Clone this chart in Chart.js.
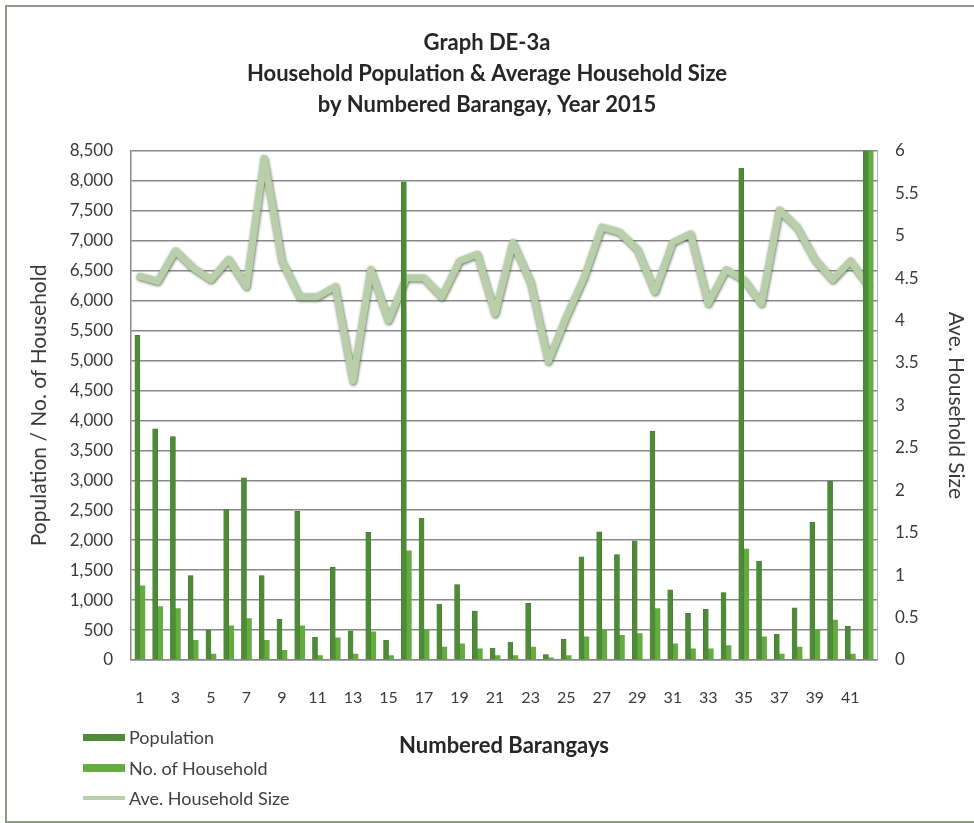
<!DOCTYPE html>
<html lang="en">
<head>
    <meta charset="UTF-8">
    <title>Graph DE-3a</title>
    <script src="https://cdn.jsdelivr.net/npm/chart.js"></script>
    <style>
        body {
            margin: 0;
            padding: 0;
            background: #fff;
            font-family: Lato, "Open Sans", sans-serif;
        }
        .wrap {
            position: relative;
            width: 974px;
            height: 823px;
            overflow: hidden;
        }
        .frame {
            position: absolute;
            left: 5px;
            top: 5px;
            width: 990px;
            height: 814px;
            border: 2px solid #8e9b86;
            pointer-events: none;
        }
        #legend {
            position: absolute;
            left: 83px;
            top: 722px;
            font-size: 18px;
            color: #404040;
        }
        #legend div {
            height: 30.5px;
            display: flex;
            align-items: center;
        }
        #legend span.sw {
            display: inline-block;
            width: 42px;
            margin-right: 4px;
        }
    </style>
</head>
<body>
    <div class="wrap">
        <canvas id="grafico" width="974" height="823"></canvas>
        <div class="frame"></div>
        <div id="legend"></div>
    </div>

    <script>
        // barangay numbers (42 = all barangays)
        const barangays = ["1","2","3","4","5","6","7","8","9","10","11","12","13","14","15","16","17","18","19","20",
            "21","22","23","24","25","26","27","28","29","30","31","32","33","34","35","36","37","38","39","40","41","42"];

        const population = [5420, 3860, 3730, 1410, 495, 2510, 3040, 1410, 680, 2480, 380, 1550, 485, 2130, 330,
            7980, 2370, 935, 1260, 815, 200, 300, 945, 90, 345, 1720, 2140, 1760, 1990, 3820, 1170, 780, 845,
            1125, 8210, 1650, 430, 870, 2300, 2985, 560, 77480];

        const households = [1240, 890, 860, 330, 100, 570, 690, 330, 160, 570, 75, 370, 100, 470, 75,
            1820, 495, 215, 270, 185, 75, 75, 215, 35, 75, 385, 495, 410, 440, 860, 270, 185, 185,
            240, 1850, 385, 100, 215, 495, 665, 100, 17610];

        const aveSize = [4.52, 4.46, 4.82, 4.62, 4.48, 4.72, 4.40, 5.91, 4.70, 4.28, 4.28, 4.40, 3.29, 4.60, 4.00,
            4.50, 4.50, 4.28, 4.70, 4.78, 4.08, 4.92, 4.45, 3.52, 4.04, 4.50, 5.10, 5.04, 4.84, 4.34, 4.92, 5.02,
            4.20, 4.60, 4.48, 4.20, 5.30, 5.10, 4.72, 4.48, 4.70, 4.42];

        const titleLines = ["Graph DE-3a", "Household Population & Average Household Size", "by Numbered Barangay, Year 2015"];

        const colPop = "#4e8a38";
        const colHH = "#64ab42";
        const colAve = "#b8cfaa";
        const gridCol = "#888888";
        const txtCol = "#3a3a3a";
        const fontFam = "Lato, 'Open Sans', sans-serif";

        // soft dark edge around the average line, like the original
        const lineShadow = {
            id: "lineShadow",
            beforeDatasetDraw(chart, args) {
                if (args.meta.type !== "line") return;
                const ctx = chart.ctx;
                ctx.save();
                ctx.shadowColor = "rgba(60, 85, 50, 0.85)";
                ctx.shadowBlur = 3;
                ctx.shadowOffsetX = 0.5;
                ctx.shadowOffsetY = 1;
            },
            afterDatasetDraw(chart, args) {
                if (args.meta.type !== "line") return;
                chart.ctx.restore();
            }
        };

        const chart = new Chart(document.getElementById("grafico").getContext("2d"), {
            data: {
                labels: barangays,
                datasets: [
                    {
                        type: "bar",
                        label: "Population",
                        data: population,
                        backgroundColor: colPop,
                        borderColor: "#3f7a2c",
                        borderWidth: 0.5,
                        barThickness: 5,
                        yAxisID: "y",
                        order: 1
                    },
                    {
                        type: "bar",
                        label: "No. of Household",
                        data: households,
                        backgroundColor: colHH,
                        borderWidth: 0,
                        barThickness: 5,
                        yAxisID: "y",
                        order: 1
                    },
                    {
                        type: "line",
                        label: "Ave. Household Size",
                        data: aveSize,
                        borderColor: colAve,
                        backgroundColor: colAve,
                        borderWidth: 7,
                        pointRadius: 0,
                        tension: 0,
                        borderJoinStyle: "round",
                        borderCapStyle: "round",
                        yAxisID: "y1",
                        order: 2
                    }
                ]
            },
            plugins: [lineShadow],
            options: {
                responsive: false,
                animation: false,
                layout: { padding: 0 },
                plugins: {
                    legend: { display: false },
                    tooltip: { enabled: false },
                    title: {
                        display: true,
                        text: titleLines,
                        color: "#262626",
                        font: { family: fontFam, size: 22, weight: "bold", lineHeight: 1.42 },
                        padding: { top: 27, bottom: 30 }
                    }
                },
                scales: {
                    x: {
                        offset: true,
                        grid: { display: false },
                        border: { display: true, color: gridCol, width: 1.5 },
                        ticks: {
                            autoSkip: false,
                            maxRotation: 0,
                            padding: 20,
                            color: txtCol,
                            font: { family: fontFam, size: 16 },
                            callback: function (v, i) { return i % 2 === 0 && i < 41 ? this.getLabelForValue(v) : ""; }
                        },
                        title: {
                            display: true,
                            text: "Numbered Barangays",
                            color: "#262626",
                            font: { family: fontFam, size: 22, weight: "bold" },
                            padding: { top: 0, bottom: 64 }
                        },
                        afterFit: s => { s.height = 163; }
                    },
                    y: {
                        position: "left",
                        min: 0,
                        max: 8500,
                        grid: { color: gridCol, lineWidth: 1.5, drawTicks: false },
                        border: { display: true, color: gridCol, width: 1.5 },
                        ticks: {
                            stepSize: 500,
                            padding: 18,
                            color: txtCol,
                            font: { family: fontFam, size: 17 },
                            callback: v => v.toLocaleString("en-US")
                        },
                        title: {
                            display: true,
                            text: "Population / No. of Household",
                            color: txtCol,
                            font: { family: fontFam, size: 21 },
                            padding: { top: 27, bottom: 0 }
                        },
                        afterFit: s => { s.width = 131; }
                    },
                    y1: {
                        position: "right",
                        min: 0,
                        max: 6,
                        grid: { display: false, drawTicks: false },
                        border: { display: true, color: "#b0b0b0", width: 1 },
                        ticks: {
                            stepSize: 0.5,
                            padding: 18,
                            color: txtCol,
                            font: { family: fontFam, size: 17 },
                            callback: v => String(v)
                        },
                        title: {
                            display: true,
                            text: "Ave. Household Size",
                            color: txtCol,
                            font: { family: fontFam, size: 21 },
                            padding: { top: 6, bottom: 0 }
                        },
                        afterFit: s => { s.width = 97; }
                    }
                }
            }
        });

        // legend built from the datasets, stacked at bottom left
        const swatch = [
            { h: 7, c: colPop },
            { h: 8, c: colHH },
            { h: 4, c: colAve }
        ];
        const leg = document.getElementById("legend");
        chart.data.datasets.forEach((ds, i) => {
            const row = document.createElement("div");
            const sw = document.createElement("span");
            sw.className = "sw";
            sw.style.height = swatch[i].h + "px";
            sw.style.background = swatch[i].c;
            row.appendChild(sw);
            row.appendChild(document.createTextNode(ds.label));
            leg.appendChild(row);
        });
    </script>
</body>
</html>
